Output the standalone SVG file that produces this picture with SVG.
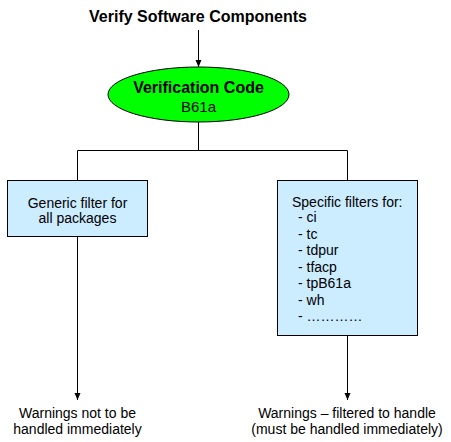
<svg xmlns="http://www.w3.org/2000/svg" width="451" height="442" viewBox="0 0 451 442">
<style>
text{font-family:"Liberation Sans",Arial,sans-serif;fill:#000}
.t{font-size:14px}
.c{text-anchor:middle}
.ln{stroke:#000;stroke-width:1;fill:none}
.box{fill:#ccecff;stroke:#000;stroke-width:1}
</style>
<defs>
<marker id="ah" markerUnits="userSpaceOnUse" markerWidth="8" markerHeight="8" refX="7" refY="4" orient="auto">
<path d="M0,1 L7,4 L0,7 Z" fill="#000"/>
</marker>
</defs>
<rect width="451" height="442" fill="#fff"/>
<g id="title"><text class="c" x="198" y="22" font-size="16" font-weight="bold">Verify Software Components</text></g>
<g id="connectors">
<line class="ln" x1="198.5" y1="30" x2="198.5" y2="67" marker-end="url(#ah)"/>
<line class="ln" x1="198.5" y1="122" x2="198.5" y2="150.5"/>
<line class="ln" x1="77.5" y1="150.5" x2="347.5" y2="150.5"/>
<line class="ln" x1="77.5" y1="150.5" x2="77.5" y2="180"/>
<line class="ln" x1="347.5" y1="150.5" x2="347.5" y2="180"/>
<line class="ln" x1="77.5" y1="236" x2="77.5" y2="400" marker-end="url(#ah)"/>
<line class="ln" x1="347.5" y1="335" x2="347.5" y2="400" marker-end="url(#ah)"/>
</g>
<g id="verification">
<ellipse cx="198.5" cy="94.5" rx="90.5" ry="27.5" fill="#00ff00" stroke="#000"/>
<text class="c" x="198.5" y="93" font-size="16" font-weight="bold">Verification Code</text>
<text class="c" x="198.5" y="112" font-size="15">B61a</text>
</g>
<g id="generic">
<rect class="box" x="7.5" y="180.5" width="140" height="56"/>
<text class="t c" x="77.5" y="207.5">Generic filter for</text>
<text class="t c" x="77.5" y="223">all packages</text>
</g>
<g id="specific">
<rect class="box" x="277.5" y="180.5" width="140" height="155"/>
<text class="t" x="292" y="206.5">Specific filters for:</text>
<text class="t" x="298" y="222">- ci</text>
<text class="t" x="298" y="238.5">- tc</text>
<text class="t" x="298" y="255">- tdpur</text>
<text class="t" x="298" y="271.5">- tfacp</text>
<text class="t" x="298" y="288">- tpB61a</text>
<text class="t" x="298" y="304.5">- wh</text>
<text class="t" x="298" y="321">- …………</text>
</g>
<g id="warn-left">
<text class="t c" x="77.5" y="418">Warnings not to be</text>
<text class="t c" x="77.5" y="434">handled immediately</text>
</g>
<g id="warn-right">
<text class="t c" x="347" y="418">Warnings – filtered to handle</text>
<text class="t c" x="347" y="434">(must be handled immediately)</text>
</g>
</svg>
